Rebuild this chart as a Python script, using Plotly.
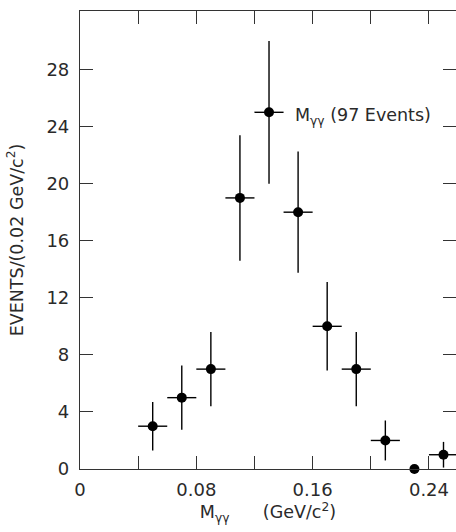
import plotly.graph_objects as go

# bin centres (GeV/c^2) and event counts
mass = [0.05, 0.07, 0.09, 0.11, 0.13, 0.15, 0.17, 0.19, 0.21, 0.23, 0.25]
events = [3, 5, 7, 19, 25, 18, 10, 7, 2, 0, 1]
err_y = [1.7, 2.25, 2.6, 4.4, 5.0, 4.25, 3.1, 2.6, 1.4, 0.0, 0.9]
bin_half = [0.01, 0.01, 0.01, 0.01, 0.01, 0.01, 0.01, 0.01, 0.01, 0.0, 0.01]

x_tickvals = [0, 0.04, 0.08, 0.12, 0.16, 0.20, 0.24]
x_ticktext = ["0", "", "0.08", "", "0.16", "", "0.24"]
y_tickvals = [0, 4, 8, 12, 16, 20, 24, 28]

FONT = "DejaVu Sans"
TXT = "#2a2a2a"
fig = go.Figure()
fig.add_trace(go.Scatter(
    x=mass, y=events, mode="markers",
    marker=dict(color="black", size=10),
    error_y=dict(type="data", array=err_y, visible=True, color="black",
                 thickness=1.4, width=0),
    error_x=dict(type="data", array=bin_half, visible=True, color="black",
                 thickness=1.4, width=0),
    showlegend=False, cliponaxis=False,
))
# invisible trace to drive right-side ticks
fig.add_trace(go.Scatter(x=[mass[0]], y=[events[0]], yaxis="y2",
                         mode="markers", marker=dict(opacity=0),
                         showlegend=False, hoverinfo="skip"))

fig.update_layout(
    width=456, height=532,
    margin=dict(l=80, r=0, t=11, b=63),
    paper_bgcolor="white", plot_bgcolor="white",
    font=dict(family=FONT, size=17, color=TXT),
    xaxis=dict(
        range=[0, 0.2586], tickvals=x_tickvals, ticktext=x_ticktext,
        ticks="inside", ticklen=13, tickwidth=1, tickcolor="#333",
        showline=True, linecolor="#333", linewidth=1.2, mirror="ticks",
        showgrid=False, zeroline=False, automargin=False,
        tickfont=dict(size=18), ticklabelstandoff=4,
        title=dict(text="M<sub>γγ</sub>      (GeV/c<sup>2</sup>)",
                   font=dict(size=17.5), standoff=5),
    ),
    yaxis=dict(
        range=[0, 32.1], tickvals=y_tickvals,
        ticks="inside", ticklen=13, tickwidth=1, tickcolor="#333",
        showline=True, linecolor="#333", linewidth=1.2,
        showgrid=False, zeroline=False, ticklabelstandoff=6, automargin=False,
        tickfont=dict(size=18),
        title=dict(text="EVENTS/(0.02 GeV/c<sup>2</sup>)",
                   font=dict(size=17.5), standoff=18),
    ),
    yaxis2=dict(
        range=[0, 32.1], tickvals=y_tickvals, overlaying="y", side="right",
        ticks="inside", ticklen=13, tickwidth=1, tickcolor="#333",
        showticklabels=False, showline=False, showgrid=False, zeroline=False,
        automargin=False,
    ),
    annotations=[
        dict(x=0.1465, y=24.7, xref="x", yref="y", xanchor="left",
             text="M<sub>γγ</sub> (97 Events)", showarrow=False,
             font=dict(size=17.5, family=FONT, color=TXT)),
    ],
)

fig.write_html("out.html", config={"displayModeBar": False},
               post_script="document.body.style.margin='0';")
